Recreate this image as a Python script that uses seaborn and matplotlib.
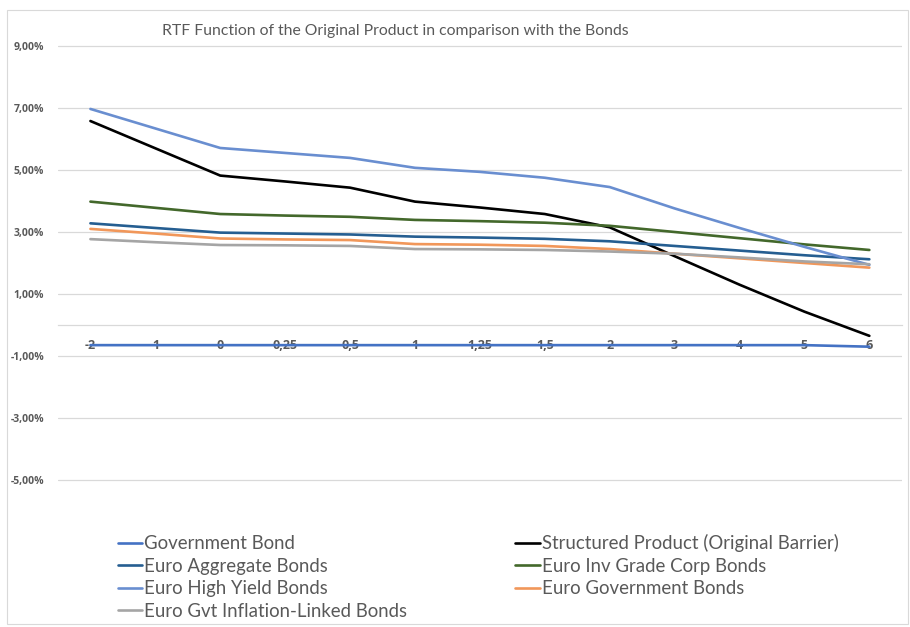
"""RTF function of the original product compared with bond indices (line chart)
"""

import matplotlib.pyplot as plt
import pandas as pd
import seaborn as sns

categories = ["-2", "-1", "0", "0,25", "0,5", "1", "1,25", "1,5", "2", "3", "4", "5", "6"]
y_ticks = [-5, -3, -1, 1, 3, 5, 7, 9]

government_bond = [-0.65, -0.65, -0.65, -0.65, -0.65, -0.65, -0.65, -0.65, -0.65, -0.65, -0.65, -0.65, -0.70]
structured_product = [6.58, 5.70, 4.82, 4.63, 4.43, 3.98, 3.79, 3.58, 3.15, 2.22, 1.30, 0.43, -0.35]
euro_aggregate = [3.28, 3.13, 2.98, 2.95, 2.92, 2.85, 2.82, 2.78, 2.70, 2.55, 2.40, 2.25, 2.12]
euro_inv_grade = [3.98, 3.78, 3.58, 3.53, 3.49, 3.39, 3.35, 3.30, 3.20, 3.00, 2.80, 2.60, 2.42]
euro_high_yield = [6.97, 6.34, 5.71, 5.55, 5.39, 5.07, 4.94, 4.75, 4.45, 3.76, 3.13, 2.52, 1.94]
euro_government = [3.10, 2.95, 2.79, 2.76, 2.74, 2.61, 2.59, 2.55, 2.45, 2.30, 2.15, 2.00, 1.85]
euro_inflation = [2.77, 2.67, 2.58, 2.57, 2.55, 2.45, 2.44, 2.42, 2.37, 2.30, 2.18, 2.05, 1.96]

series = {
    "Government Bond": government_bond,
    "Structured Product (Original Barrier)": structured_product,
    "Euro Aggregate Bonds": euro_aggregate,
    "Euro Inv Grade Corp Bonds": euro_inv_grade,
    "Euro High Yield Bonds": euro_high_yield,
    "Euro Government Bonds": euro_government,
    "Euro Gvt Inflation-Linked Bonds": euro_inflation,
}
colors = {
    "Government Bond": "#4472C4",
    "Structured Product (Original Barrier)": "#000000",
    "Euro Aggregate Bonds": "#255E91",
    "Euro Inv Grade Corp Bonds": "#43682B",
    "Euro High Yield Bonds": "#698ED0",
    "Euro Government Bonds": "#F1975A",
    "Euro Gvt Inflation-Linked Bonds": "#A5A5A5",
}

rows = []
for name, vals in series.items():
    for i, v in enumerate(vals):
        rows.append({"pos": i, "value": v, "series": name})
df = pd.DataFrame(rows)

sns.set_theme(style="white")
plt.rcParams["font.family"] = ["Lato", "DejaVu Sans"]

fig = plt.figure(figsize=(9.1, 6.27), dpi=100)
ax = fig.add_axes([0.0637, 0.232, 0.9273, 0.6971])

# government bond drawn last so it sits on top of the category labels
order = list(series.keys())[1:] + ["Government Bond"]
for name in order:
    sns.lineplot(data=df[df["series"] == name], x="pos", y="value", color=colors[name],
                 linewidth=1.9, ax=ax, label=name, sort=False, zorder=3)

ax.set_xlim(-0.5, len(categories) - 0.5)
ax.set_ylim(-5.05, 9.05)
ax.set_xlabel("")
ax.set_ylabel("")

ax.set_yticks(y_ticks, [f"{v:.2f}%".replace(".", ",") for v in y_ticks],
              fontweight="bold", fontfamily="Open Sans")
ax.grid(axis="y", color="#D9D9D9", linewidth=0.9)
ax.set_axisbelow(True)
ax.tick_params(axis="y", length=0, pad=10, labelsize=7.5, labelcolor="#595959")

for s in ["top", "right", "left"]:
    ax.spines[s].set_visible(False)
ax.spines["bottom"].set_position(("data", 0))
ax.spines["bottom"].set_color("#D9D9D9")
ax.spines["bottom"].set_linewidth(0.9)
ax.set_xticks(range(len(categories)), categories, fontweight="bold", fontfamily="Open Sans")
ax.tick_params(axis="x", length=0, pad=10, labelsize=9, labelcolor="#595959")
for lbl in ax.get_xticklabels():
    lbl.set_zorder(2)

fig.text(0.434, 0.951, "RTF Function of the Original Product in comparison with the Bonds",
         ha="center", va="center", fontsize=11.3, color="#595959")

handles, labels = ax.get_legend_handles_labels()
lookup = dict(zip(labels, handles))
leg_order = ["Government Bond", "Euro Aggregate Bonds", "Euro High Yield Bonds",
             "Euro Gvt Inflation-Linked Bonds", "Structured Product (Original Barrier)",
             "Euro Inv Grade Corp Bonds", "Euro Government Bonds"]
ax.get_legend().remove()
fig.legend([lookup[n] for n in leg_order], leg_order, ncol=2, loc="upper left",
           bbox_to_anchor=(0.119, 0.163), frameon=False, fontsize=13.4,
           labelcolor="#595959", handlelength=1.33, handletextpad=0.1,
           columnspacing=5.8, labelspacing=0.3, borderpad=0)

fig.patches.append(plt.Rectangle((0.008, 0.004), 0.99, 0.98, transform=fig.transFigure,
                                 fill=False, edgecolor="#D9D9D9", linewidth=0.8))

plt.savefig("out.png", dpi=100)
